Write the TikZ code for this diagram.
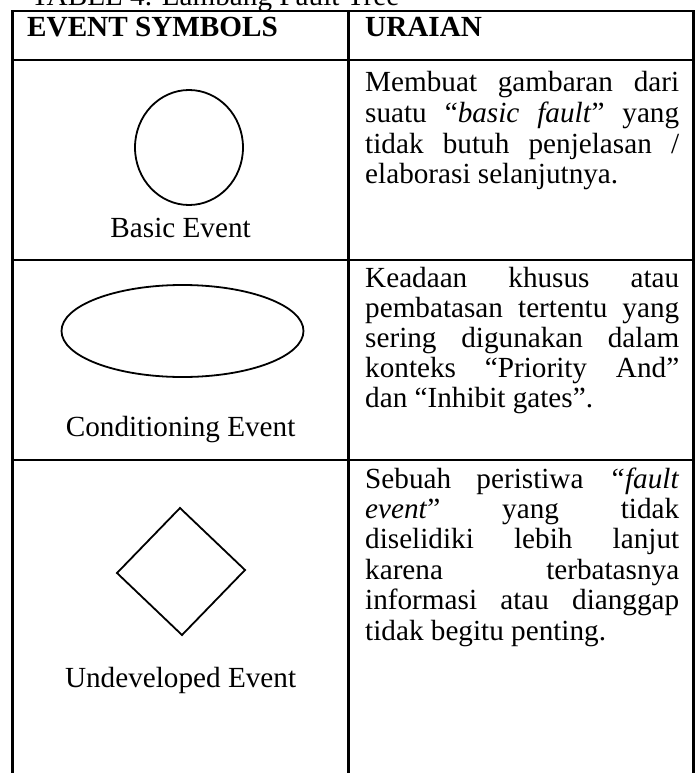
\documentclass[tikz,border=0pt]{standalone}
\usepackage{fontspec}
\setmainfont{Liberation Serif}
\usetikzlibrary{shapes.geometric}

% one justified line of the description column
\newcommand{\fullline}[1]{\makebox[314pt][s]{#1}}

\tikzset{
  rule/.style={line width=2.6pt, line cap=rect},
  shapeline/.style={line width=1.8pt},
  txt/.style={inner sep=0pt, font=\fontsize{29.2}{30.5}\selectfont},
  label/.style={txt, anchor=base},
  desc/.style={txt, anchor=base west},
  head/.style={txt, anchor=base west, font=\fontsize{29.2}{30.5}\selectfont\bfseries},
}

\begin{document}
\begin{tikzpicture}[x=1pt,y=-1pt]
  \clip (0,0) rectangle (696,773);
  \fill[white] (0,0) rectangle (696,773);

  % caption above the table
  \node[txt, anchor=base west] (caption) at (31,5.5) {TABEL 4. Lambang Fault Tree};

  % table rules
  \draw[rule] (12.5,11) -- (693.5,11);
  \draw[rule] (12.5,60) -- (693.5,60);
  \draw[rule] (12.5,260) -- (693.5,260);
  \draw[rule] (12.5,460) -- (693.5,460);
  \draw[rule] (12.5,11) -- (12.5,790);
  \draw[rule] (348.7,11) -- (348.7,790);
  \draw[rule] (693.5,11) -- (693.5,790);

  % header
  \node[head] (h1) at (27,37) {EVENT SYMBOLS};
  \node[head] (h2) at (365,37) {URAIAN};

  % symbols
  \node[ellipse, draw, shapeline, minimum width=108pt, minimum height=115pt, inner sep=0pt] (basic) at (189,147.5) {};
  \node[label] (basicL) at (180.6,237) {Basic Event};

  \node[ellipse, draw, shapeline, minimum width=242pt, minimum height=92pt, inner sep=0pt] (cond) at (182.5,331) {};
  \node[label] (condL) at (180.6,436.5) {Conditioning Event};

  \coordinate (dT) at (180,508);
  \coordinate (dR) at (245,570);
  \coordinate (dB) at (182,635);
  \coordinate (dL) at (117,573);
  \draw[shapeline, line join=miter] (dT) -- (dR) -- (dB) -- (dL) -- cycle;
  \node[label] (undevL) at (180.6,687) {Undeveloped Event};

  % descriptions, row 1
  \node[desc] (d1a) at (365,92)    {\fullline{Membuat gambaran dari}};
  \node[desc] (d1b) at (365,122.5) {\fullline{suatu “\textit{basic fault}” yang}};
  \node[desc] (d1c) at (365,153)   {\fullline{tidak butuh penjelasan /}};
  \node[desc] (d1d) at (365,183.5) {elaborasi selanjutnya.};

  % descriptions, row 2
  \node[desc] (d2a) at (365,287) {\fullline{Keadaan khusus atau}};
  \node[desc] (d2b) at (365,317) {\fullline{pembatasan tertentu yang}};
  \node[desc] (d2c) at (365,347) {\fullline{sering digunakan dalam}};
  \node[desc] (d2d) at (365,377) {\fullline{konteks “Priority And”}};
  \node[desc] (d2e) at (365,407) {dan “Inhibit gates”.};

  % descriptions, row 3
  \node[desc] (d3a) at (365,488)   {\fullline{Sebuah peristiwa \textit{“fault}}};
  \node[desc] (d3b) at (365,518.4) {\fullline{\textit{event}” yang tidak}};
  \node[desc] (d3c) at (365,548.8) {\fullline{diselidiki lebih lanjut}};
  \node[desc] (d3d) at (365,579.2) {\fullline{karena terbatasnya}};
  \node[desc] (d3e) at (365,609.6) {\fullline{informasi atau dianggap}};
  \node[desc] (d3f) at (365,640)   {tidak begitu penting.};
\end{tikzpicture}
\end{document}
